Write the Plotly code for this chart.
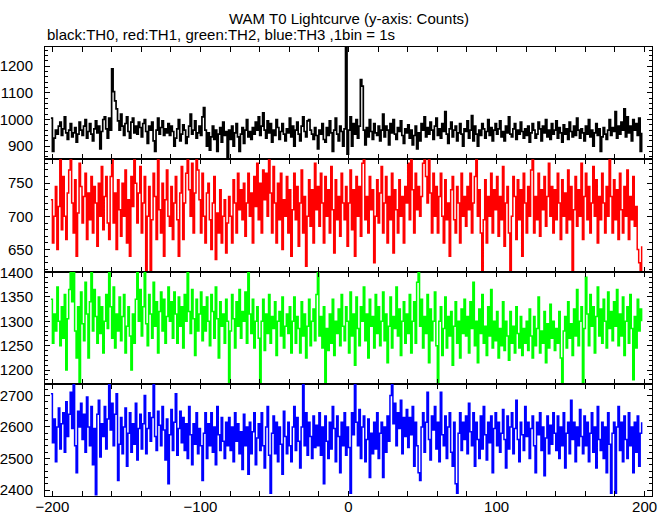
import plotly.graph_objects as go
from plotly.subplots import make_subplots

# time bins (1 bin = 1 s), first bin start
T_START = -201
BIN = 1

th0 = [
1005, 880, 930, 960, 945, 975, 990, 940, 965, 1010, 950, 925, 960, 985, 935, 950, 970, 915, 945, 990,
960, 940, 975, 1000, 930, 955, 985, 945, 920, 965, 995, 950, 975, 890, 955, 1000, 1010, 965, 930, 1005,
960, 1190, 1105, 1070, 1040, 995, 960, 1020, 975, 940, 985, 1010, 955, 930, 990, 1005, 950, 975, 945, 990,
970, 935, 985, 1000, 955, 910, 975, 960, 990, 920, 880, 960, 1005, 945, 970, 995, 940, 965, 950, 985,
940, 975, 955, 900, 930, 965, 1000, 920, 945, 980, 960, 910, 935, 975, 1020, 945, 960, 995, 930, 950,
975, 940, 1010, 1045, 960, 900, 950, 885, 935, 975, 925, 960, 880, 945, 970, 915, 990, 940, 955, 850,
960, 925, 975, 900, 950, 985, 935, 880, 945, 970, 910, 960, 1000, 935, 955, 925, 970, 945, 990, 960,
1010, 940, 975, 1025, 960, 930, 995, 950, 985, 915, 960, 940, 1000, 970, 925, 955, 985, 945, 920, 965,
950, 1005, 935, 975, 900, 960, 990, 945, 920, 975, 1010, 955, 935, 995, 1000, 960, 945, 925, 970, 940,
890, 960, 945, 985, 925, 915, 970, 940, 995, 950, 880, 960, 1005, 945, 920, 975, 955, 900, 965, 1280,
870, 960, 1010, 900, 985, 945, 1000, 930, 975, 1150, 1125, 960, 905, 970, 935, 1000, 955, 925, 985, 950,
940, 975, 920, 960, 1020, 935, 975, 960, 905, 985, 950, 1000, 945, 925, 970, 955, 995, 940, 910, 965,
950, 980, 930, 960, 905, 940, 975, 890, 950, 920, 985, 960, 1010, 935, 970, 945, 990, 960, 925, 975,
1005, 940, 965, 930, 985, 955, 1030, 945, 910, 965, 990, 935, 960, 975, 920, 950, 985, 945, 900, 965,
955, 995, 930, 960, 1015, 920, 975, 945, 900, 960, 940, 985, 965, 930, 955, 1000, 940, 970, 920, 960,
985, 945, 965, 995, 935, 955, 920, 975, 950, 1010, 945, 935, 965, 985, 925, 960, 945, 990, 955, 930,
965, 940, 975, 915, 950, 985, 960, 930, 945, 990, 965, 920, 975, 950, 1000, 935, 960, 925, 985, 945,
960, 995, 930, 970, 950, 915, 980, 945, 965, 925, 990, 955, 935, 975, 940, 1005, 960, 930, 965, 950,
920, 975, 945, 1000, 935, 960, 900, 950, 985, 940, 965, 880, 935, 970, 945, 925, 960, 1000, 940, 970,
955, 1030, 930, 975, 945, 990, 960, 1040, 935, 1010, 950, 975, 920, 1000, 960, 985, 940, 1005, 880, 950,
]

th1 = [
725, 660, 700, 745, 650, 715, 800, 680, 760, 700, 665, 735, 770, 800, 720, 675, 755, 640, 705, 780,
745, 690, 730, 765, 665, 735, 695, 760, 675, 745, 720, 655, 750, 700, 775, 680, 730, 760, 690, 665,
760, 800, 690, 735, 650, 755, 710, 670, 750, 700, 770, 660, 725, 640, 760, 715, 800, 750, 690, 735,
775, 675, 720, 760, 615, 700, 745, 612, 695, 765, 730, 665, 800, 710, 675, 750, 640, 725, 770, 700,
685, 745, 665, 720, 760, 695, 640, 735, 775, 665, 720, 765, 800, 740, 700, 780, 675, 735, 800, 770,
725, 675, 765, 700, 660, 735, 750, 695, 650, 720, 760, 635, 705, 675, 740, 660, 700, 725, 645, 690,
730, 700, 660, 755, 720, 675, 765, 710, 740, 695, 750, 670, 720, 765, 700, 735, 660, 760, 715, 780,
695, 750, 675, 770, 725, 765, 700, 800, 735, 675, 775, 720, 660, 750, 695, 765, 650, 725, 700, 760,
675, 740, 640, 710, 765, 695, 745, 655, 720, 770, 675, 730, 625, 700, 755, 685, 740, 660, 780, 710,
745, 685, 765, 720, 660, 760, 700, 740, 675, 775, 710, 645, 755, 695, 730, 670, 765, 720, 695, 745,
655, 720, 770, 680, 740, 640, 760, 700, 745, 670, 780, 800, 695, 730, 675, 760, 710, 740, 630, 700,
755, 690, 735, 775, 675, 720, 760, 660, 730, 695, 765, 645, 740, 710, 675, 755, 700, 730, 660, 745,
720, 780, 695, 800, 740, 675, 765, 710, 745, 700, 730, 780, 800, 760, 720, 800, 735, 675, 765, 700,
745, 675, 730, 765, 700, 660, 755, 695, 720, 640, 740, 760, 695, 675, 745, 720, 660, 765, 700, 730,
685, 745, 710, 765, 675, 720, 760, 800, 700, 740, 675, 612, 695, 755, 660, 730, 700, 765, 675, 740,
710, 760, 670, 730, 695, 775, 655, 720, 745, 675, 612, 700, 760, 730, 665, 755, 695, 740, 640, 765,
720, 675, 745, 700, 770, 800, 675, 730, 695, 765, 670, 740, 710, 760, 685, 730, 780, 700, 745, 675,
740, 695, 765, 720, 665, 755, 700, 735, 675, 770, 695, 745, 612, 710, 760, 685, 740, 700, 780, 665,
730, 765, 695, 745, 675, 720, 775, 700, 755, 660, 730, 695, 765, 720, 675, 745, 700, 800, 730, 675,
755, 695, 740, 665, 765, 710, 675, 745, 700, 770, 665, 730, 695, 760, 685, 715, 650, 630, 612, 655,
]

th2 = [
1345, 1255, 1315, 1280, 1370, 1300, 1250, 1330, 1265, 1355, 1200, 1305, 1365, 1410, 1340, 1410, 1280, 1225, 1330, 1170,
1360, 1295, 1260, 1380, 1315, 1225, 1340, 1410, 1280, 1365, 1310, 1255, 1350, 1275, 1330, 1235, 1300, 1355, 1285, 1410,
1330, 1265, 1370, 1245, 1315, 1280, 1350, 1260, 1310, 1355, 1235, 1290, 1330, 1270, 1200, 1315, 1255, 1345, 1410, 1300,
1365, 1270, 1330, 1410, 1295, 1250, 1355, 1315, 1265, 1380, 1290, 1340, 1235, 1320, 1360, 1280, 1345, 1255, 1310, 1370,
1300, 1340, 1265, 1360, 1315, 1255, 1350, 1290, 1330, 1245, 1355, 1300, 1410, 1320, 1275, 1365, 1305, 1230, 1345, 1280,
1315, 1360, 1260, 1330, 1280, 1350, 1300, 1250, 1355, 1320, 1265, 1370, 1305, 1225, 1340, 1290, 1315, 1255, 1345, 1300,
1170, 1280, 1355, 1305, 1245, 1340, 1290, 1365, 1265, 1320, 1300, 1360, 1255, 1410, 1315, 1275, 1345, 1245, 1300, 1330,
1265, 1170, 1300, 1345, 1240, 1315, 1275, 1355, 1255, 1310, 1285, 1340, 1230, 1300, 1320, 1270, 1350, 1245, 1290, 1315,
1275, 1330, 1235, 1300, 1350, 1255, 1310, 1285, 1235, 1340, 1270, 1315, 1225, 1290, 1345, 1250, 1300, 1325, 1260, 1355,
1410, 1270, 1310, 1245, 1330, 1175, 1285, 1240, 1315, 1255, 1345, 1230, 1300, 1275, 1325, 1250, 1355, 1290, 1260, 1330,
1300, 1235, 1360, 1270, 1315, 1210, 1350, 1285, 1250, 1330, 1300, 1370, 1260, 1315, 1225, 1345, 1290, 1310, 1245, 1355,
1275, 1330, 1250, 1300, 1360, 1260, 1315, 1215, 1290, 1350, 1245, 1310, 1285, 1370, 1270, 1325, 1230, 1300, 1340, 1255,
1315, 1275, 1355, 1235, 1300, 1340, 1255, 1380, 1410, 1290, 1345, 1245, 1310, 1275, 1355, 1215, 1325, 1260, 1300, 1360,
1250, 1175, 1300, 1330, 1230, 1285, 1350, 1245, 1310, 1270, 1320, 1210, 1290, 1340, 1255, 1300, 1225, 1325, 1275, 1345,
1270, 1310, 1235, 1340, 1285, 1380, 1250, 1300, 1215, 1325, 1275, 1355, 1255, 1290, 1230, 1330, 1270, 1365, 1245, 1300,
1260, 1320, 1225, 1285, 1250, 1340, 1240, 1300, 1270, 1220, 1320, 1255, 1290, 1235, 1330, 1275, 1245, 1310, 1230, 1285,
1255, 1300, 1240, 1325, 1270, 1225, 1310, 1250, 1285, 1350, 1235, 1280, 1255, 1320, 1215, 1295, 1245, 1335, 1265, 1300,
1240, 1285, 1255, 1320, 1225, 1175, 1280, 1310, 1245, 1340, 1265, 1295, 1230, 1325, 1270, 1365, 1250, 1300, 1330, 1175,
1285, 1390, 1315, 1250, 1355, 1290, 1330, 1235, 1310, 1370, 1270, 1325, 1255, 1345, 1300, 1245, 1360, 1285, 1320, 1260,
1340, 1290, 1365, 1250, 1315, 1270, 1350, 1230, 1300, 1330, 1255, 1355, 1285, 1180, 1310, 1245, 1345, 1280, 1325, 1300,
]

th3 = [
2705, 2550, 2625, 2490, 2600, 2660, 2530, 2610, 2645, 2520, 2680, 2570, 2640, 2710, 2595, 2745, 2540, 2455, 2650, 2600,
2675, 2560, 2640, 2520, 2695, 2600, 2540, 2665, 2480, 2595, 2385, 2640, 2685, 2505, 2610, 2570, 2665, 2530, 2625, 2745,
2590, 2675, 2540, 2640, 2705, 2430, 2545, 2630, 2515, 2600, 2660, 2475, 2580, 2645, 2520, 2610, 2545, 2675, 2495, 2595,
2640, 2530, 2610, 2700, 2515, 2595, 2645, 2555, 2630, 2745, 2570, 2525, 2650, 2605, 2540, 2665, 2590, 2495, 2625, 2420,
2575, 2655, 2525, 2615, 2705, 2510, 2595, 2650, 2550, 2630, 2525, 2610, 2500, 2665, 2575, 2480, 2610, 2545, 2645, 2515,
2595, 2540, 2430, 2580, 2645, 2500, 2610, 2540, 2645, 2520, 2600, 2480, 2665, 2575, 2525, 2630, 2555, 2500, 2615, 2540,
2630, 2525, 2600, 2490, 2645, 2555, 2610, 2515, 2585, 2465, 2640, 2540, 2600, 2450, 2615, 2515, 2585, 2645, 2480, 2565,
2610, 2525, 2645, 2540, 2470, 2600, 2665, 2510, 2390, 2580, 2635, 2515, 2615, 2490, 2600, 2545, 2450, 2650, 2570, 2515,
2615, 2540, 2490, 2600, 2665, 2525, 2630, 2555, 2470, 2600, 2745, 2540, 2645, 2510, 2615, 2570, 2500, 2635, 2535, 2605,
2540, 2645, 2510, 2600, 2420, 2635, 2555, 2500, 2615, 2530, 2665, 2595, 2490, 2635, 2570, 2455, 2615, 2540, 2645, 2510,
2600, 2535, 2390, 2645, 2575, 2745, 2615, 2540, 2655, 2500, 2600, 2635, 2490, 2560, 2625, 2440, 2580, 2515, 2615, 2530,
2645, 2500, 2580, 2615, 2440, 2600, 2520, 2635, 2555, 2700, 2745, 2610, 2675, 2540, 2645, 2595, 2685, 2515, 2630, 2570,
2655, 2535, 2630, 2575, 2665, 2475, 2615, 2540, 2455, 2430, 2600, 2645, 2520, 2615, 2710, 2560, 2495, 2635, 2590, 2665,
2530, 2615, 2490, 2710, 2575, 2540, 2635, 2500, 2600, 2645, 2520, 2475, 2615, 2420, 2390, 2580, 2645, 2525, 2615, 2560,
2635, 2515, 2675, 2585, 2540, 2645, 2475, 2615, 2560, 2500, 2635, 2530, 2665, 2575, 2495, 2615, 2550, 2635, 2455, 2595,
2645, 2540, 2615, 2520, 2580, 2655, 2560, 2470, 2635, 2530, 2600, 2645, 2515, 2595, 2685, 2560, 2490, 2615, 2575, 2525,
2665, 2570, 2615, 2500, 2595, 2635, 2540, 2455, 2615, 2575, 2645, 2525, 2600, 2445, 2565, 2635, 2515, 2605, 2545, 2645,
2580, 2525, 2635, 2500, 2600, 2540, 2645, 2470, 2580, 2615, 2515, 2685, 2560, 2615, 2490, 2600, 2540, 2655, 2570, 2515,
2635, 2540, 2615, 2490, 2580, 2645, 2520, 2600, 2470, 2665, 2560, 2525, 2615, 2500, 2600, 2455, 2645, 2545, 2390, 2580,
2615, 2390, 2600, 2665, 2525, 2615, 2490, 2635, 2560, 2500, 2645, 2540, 2600, 2455, 2615, 2520, 2635, 2475, 2580, 2615,
]

series = [th0, th1, th2, th3]
colors = ["#000000", "#ff0000", "#00ff00", "#0000ff"]
widths = [1.7, 1.5, 1.5, 1.5]
y_ranges = [[851, 1272], [617, 786], [1172, 1402], [2381, 2737]]
y_dticks = [100, 50, 50, 100]
y_minor = [20, 10, 10, 20]
x_range = [-205, 205]

FONT = "Liberation Sans, Arial, Helvetica, sans-serif"

fig = make_subplots(rows=4, cols=1, shared_xaxes=True, vertical_spacing=0)

for i, (vals, col, w) in enumerate(zip(series, colors, widths)):
    t = [T_START + k * BIN for k in range(len(vals))]
    fig.add_trace(
        go.Scatter(x=t, y=vals, mode="lines", line=dict(color=col, width=w, shape="hv"),
                   showlegend=False, hoverinfo="skip"),
        row=i + 1, col=1,
    )
    fig.update_yaxes(
        range=y_ranges[i], dtick=y_dticks[i], tick0=0,
        ticks="inside", ticklen=5, tickwidth=1, tickcolor="black",
        minor=dict(dtick=y_minor[i], ticks="inside", ticklen=3, tickcolor="black", showgrid=False),
        showline=True, linecolor="black", linewidth=1, mirror="allticks",
        showgrid=False, zeroline=False, ticklabelstandoff=8, automargin=False,
        tickfont=dict(family=FONT, size=15, color="black"),
        row=i + 1, col=1,
    )
    fig.update_xaxes(
        range=x_range, dtick=100, tick0=0,
        ticks="inside", ticklen=5, tickwidth=1, tickcolor="black",
        minor=dict(dtick=20, ticks="inside", ticklen=5, tickcolor="black", showgrid=False),
        showline=True, linecolor="black", linewidth=1, mirror="allticks",
        showgrid=False, zeroline=False, automargin=False,
        showticklabels=(i == 3), ticklabelstandoff=-3,
        tickfont=dict(family=FONT, size=15, color="black"),
        row=i + 1, col=1,
    )

fig.update_layout(
    width=669, height=515,
    margin=dict(l=45, r=17, t=47, b=19, autoexpand=False),
    paper_bgcolor="white", plot_bgcolor="white",
    font=dict(family=FONT, size=15, color="black"),
    annotations=[
        dict(text="WAM T0 Lightcurve (y-axis: Counts)", xref="paper", yref="paper",
             x=0.5, y=1, yshift=29, xanchor="center", yanchor="middle", showarrow=False,
             font=dict(family=FONT, size=15, color="black")),
        dict(text="black:TH0, red:TH1, green:TH2, blue:TH3 ,1bin = 1s", xref="paper", yref="paper",
             x=0, y=1, yshift=13, xanchor="left", yanchor="middle", showarrow=False,
             font=dict(family=FONT, size=15, color="black")),
    ],
)

fig.write_html(
    "out.html",
    config={"displayModeBar": False},
    post_script="document.body.style.margin='0';document.body.style.overflow='hidden';",
)
